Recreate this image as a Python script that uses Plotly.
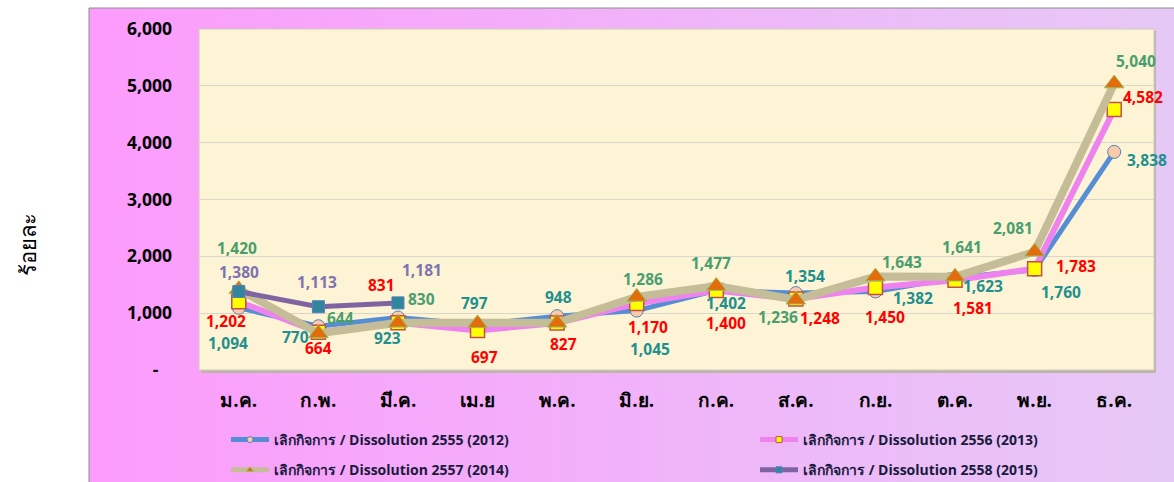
import plotly.graph_objects as go

# ---------------- data ----------------
months = ["ม.ค.", "ก.พ.", "มี.ค.", "เม.ย", "พ.ค.", "มิ.ย.", "ก.ค.", "ส.ค.", "ก.ย.", "ต.ค.", "พ.ย.", "ธ.ค."]
series_names = [
    "เลิกกิจการ / Dissolution 2555 (2012)",
    "เลิกกิจการ / Dissolution 2556 (2013)",
    "เลิกกิจการ / Dissolution 2557 (2014)",
    "เลิกกิจการ / Dissolution 2558 (2015)",
]
v2012 = [1094, 770, 923, 797, 948, 1045, 1402, 1354, 1382, 1623, 1760, 3838]
v2013 = [1202, 664, 831, 697, 827, 1170, 1400, 1248, 1450, 1581, 1783, 4582]
v2014 = [1420, 644, 830, 820, 830, 1286, 1477, 1236, 1643, 1641, 2081, 5040]
v2015 = [1380, 1113, 1181]
# which labels are visible in the original (2014 Apr/May labels hidden)
show2014 = [True, True, True, False, False, True, True, True, True, True, True, True]

y_tickvals = [0, 1000, 2000, 3000, 4000, 5000, 6000]
y_ticktext = ["-\u00a0\u00a0\u00a0", "1,000", "2,000", "3,000", "4,000", "5,000", "6,000"]
y_title = "ร้อยละ"

# ---------------- styles ----------------
W, H = 1174, 482
PL, PR, PT, PB = 199, 1154, 29, 370  # plot area in pixels
pw, ph = PR - PL, PB - PT

def px2x(px):
    return (px - PL) / pw

def px2y(py):
    return (PB - py) / ph

label_font = "Tahoma, 'Open Sans', 'Noto Sans', sans-serif"

styles = [
    dict(line=dict(color="#558ED5", width=5),
         marker=dict(symbol="circle", size=13, color="#FBCBA9", line=dict(color="#4F81BD", width=1)),
         label_color="#1F8F8F", legend="legend"),
    dict(line=dict(color="#EE82EE", width=6),
         marker=dict(symbol="square", size=14, color="#FFFF00", line=dict(color="#C0504D", width=1.5)),
         label_color="#FF0000", legend="legend2"),
    dict(line=dict(color="#C4BD97", width=8),
         marker=dict(symbol="triangle-up", size=17, color="#E46C0A", line=dict(color="#9BBB59", width=1)),
         label_color="#4A9E6E", legend="legend"),
    dict(line=dict(color="#8064A2", width=5),
         marker=dict(symbol="square", size=12, color="#31859C", line=dict(color="#4F81BD", width=1)),
         label_color="#7F72B0", legend="legend2"),
]

# label offsets (dx, dy) in pixels; dy positive = down
offsets = [
    [(-11, 35), (-23, 11), (-10, 20), (-3, -22), (1, -19), (13, 38), (10, 13), (9, -17), (38, 7), (28, 8), (26, 22), (33, 8)],
    [(-13, 19), (0, 16), (-16, -38), (7, 27), (6, 21), (11, 23), (10, 33), (24, 19), (10, 29), (18, 28), (41, -3), (29, -13)],
    [(-2, -41), (22, -15), (24, -24), (0, -22), (0, -22), (6, -18), (-5, -23), (-18, 17), (27, -15), (7, -30), (-22, -24), (22, -23)],
    [(0, -20), (-1, -25), (24, -33)],
]

all_values = [v2012, v2013, v2014, v2015]
visible_labels = [[True] * 12, [True] * 12, show2014, [True] * 3]

fig = go.Figure()

for i, vals in enumerate(all_values):
    st = styles[i]
    fig.add_trace(go.Scatter(
        x=months[:len(vals)], y=vals, mode="lines+markers", name=series_names[i],
        line=st["line"], marker=st["marker"], showlegend=False, hoverinfo="skip",
    ))

# legend-only entries with small markers (as in the original legend)
for i in range(4):
    st = styles[i]
    fig.add_trace(go.Scatter(
        x=[None], y=[None], mode="lines+markers", name=series_names[i],
        line=dict(color=st["line"]["color"], width=5),
        marker=dict(symbol=st["marker"]["symbol"], size=6, color=st["marker"]["color"],
                    line=dict(color=st["marker"]["line"]["color"], width=1)),
        legend=st["legend"], legendgroup=f"g{i}", hoverinfo="skip",
    ))

annotations = []
for i, vals in enumerate(all_values):
    for j, v in enumerate(vals):
        if not visible_labels[i][j]:
            continue
        dx, dy = offsets[i][j]
        annotations.append(dict(
            x=months[j], y=v, xref="x", yref="y", text=f"{v:,}", showarrow=False,
            xshift=dx, yshift=-dy,
            font=dict(family=label_font, size=15.5, color=styles[i]["label_color"], weight="bold"),
        ))

annotations.append(dict(
    x=px2x(27), y=px2y(245), xref="paper", yref="paper", text=y_title, showarrow=False,
    xanchor="center", yanchor="middle",
    textangle=-90, font=dict(family=label_font, size=22, color="#000000"),
))

# gradient background of chart area (pink -> lavender)
shapes = []
N = 90
x0p, x1p, y0p, y1p = 89, 1174, 8, 482
c0 = (252, 156, 252)
c1 = (230, 200, 246)
for k in range(N):
    t = k / (N - 1)
    col = "rgb({},{},{})".format(*[round(a + (b - a) * t) for a, b in zip(c0, c1)])
    xa = x0p + (x1p - x0p) * k / N
    xb = x0p + (x1p - x0p) * (k + 1) / N + 0.8
    shapes.append(dict(type="rect", xref="paper", yref="paper", layer="below",
                       x0=px2x(xa), x1=px2x(xb), y0=px2y(y1p), y1=px2y(y0p),
                       fillcolor=col, line=dict(width=0)))
shapes.append(dict(type="rect", xref="paper", yref="paper", layer="below",
                   x0=px2x(x0p), x1=px2x(x1p + 5), y0=px2y(y1p + 5), y1=px2y(y0p),
                   fillcolor="rgba(0,0,0,0)", line=dict(color="#8C8C8C", width=1)))
# plot area shadow and fill
shapes.append(dict(type="rect", xref="paper", yref="paper", layer="below",
                   x0=px2x(PL + 2), x1=px2x(PR + 2), y0=px2y(PB + 3), y1=px2y(PT + 2),
                   fillcolor="#BDB6A8", line=dict(width=0)))
shapes.append(dict(type="rect", xref="paper", yref="paper", layer="below",
                   x0=0, x1=1, y0=0, y1=1,
                   fillcolor="#FCF4D4", line=dict(color="#D0CCC0", width=1)))

legend_common = dict(
    orientation="v", bgcolor="rgba(0,0,0,0)", borderwidth=0,
    font=dict(family=label_font, size=14, color="#1A1A3C", weight="bold"),
    itemwidth=38, tracegroupgap=9, xanchor="left", yanchor="top",
    xref="container", yref="container",
)

fig.update_layout(
    width=W, height=H,
    margin=dict(l=PL, r=W - PR, t=PT, b=H - PB, pad=0, autoexpand=False),
    paper_bgcolor="#FFFFFF", plot_bgcolor="rgba(0,0,0,0)",
    showlegend=True,
    legend=dict(x=226 / W, y=1 - 424 / H, **legend_common),
    legend2=dict(x=755 / W, y=1 - 424 / H, **legend_common),
    xaxis=dict(type="category", range=[-0.5, 11.5], showgrid=False, zeroline=False,
               showline=False, ticks="", ticklabelstandoff=17,
               tickfont=dict(family=label_font, size=19, color="#000000", weight="bold")),
    yaxis=dict(range=[0, 6000], tickvals=y_tickvals, ticktext=y_ticktext,
               showgrid=True, gridcolor="#D9D6CC", gridwidth=1, zeroline=False,
               showline=False, ticks="", ticklabelstandoff=26,
               tickfont=dict(family=label_font, size=17.5, color="#000000", weight="bold")),
    shapes=shapes,
    annotations=annotations,
)

fig.write_html("out.html", config={"displayModeBar": False},
               post_script="document.body.style.margin='0px';document.body.style.overflow='hidden';")
